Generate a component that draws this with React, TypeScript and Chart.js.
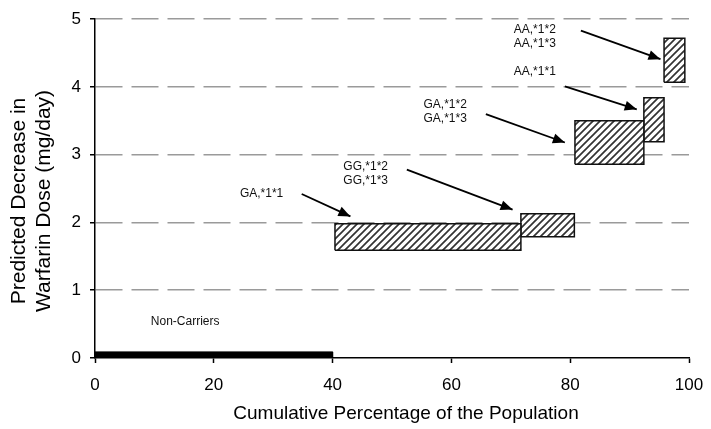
import React, { useEffect, useRef } from 'react';
import { Chart, registerables } from 'chart.js';

Chart.register(...registerables);

// ---- data ----
const xTickValues = [0, 20, 40, 60, 80, 100];
const yTickValues = [0, 1, 2, 3, 4, 5];

const boxNames = ['GA,*1*1', 'GG,*1*2 / GG,*1*3', 'GA,*1*2 / GA,*1*3', 'AA,*1*1', 'AA,*1*2 / AA,*1*3'];
const boxXStart = [40.4, 71.7, 80.8, 92.4, 95.8];
const boxXEnd = [71.7, 80.7, 92.4, 95.8, 99.3];
const boxYLow = [1.59, 1.79, 2.86, 3.19, 4.07];
const boxYHigh = [1.98, 2.13, 3.5, 3.84, 4.72];

const nonCarrierX = [0, 40];
const nonCarrierY = [0, 0.09];

const arrowTailX = [34.8, 52.5, 65.8, 79.1, 81.8];
const arrowTailY = [2.42, 2.78, 3.6, 4.01, 4.83];
const arrowHeadX = [43.0, 70.3, 79.1, 91.2, 95.2];
const arrowHeadY = [2.09, 2.19, 3.18, 3.67, 4.41];

const labelLines = [
  ['GA,*1*1'],
  ['GG,*1*2', 'GG,*1*3'],
  ['GA,*1*2', 'GA,*1*3'],
  ['AA,*1*1'],
  ['AA,*1*2', 'AA,*1*3'],
  ['Non-Carriers'],
];
const labelX = [24.4, 41.8, 55.3, 70.5, 70.5, 9.4];
const labelY = [2.42, 2.82, 3.74, 4.22, 4.84, 0.53];

const xTitle = 'Cumulative Percentage of the Population';
const yTitleLines = ['Predicted Decrease in', 'Warfarin Dose (mg/day)'];

const FONT = '"Liberation Sans", Arial, Helvetica, sans-serif';

function makeHatch(): CanvasPattern | string {
  const s = 7;
  const c = document.createElement('canvas');
  c.width = s;
  c.height = s;
  const g = c.getContext('2d');
  if (!g) return '#bbb';
  g.fillStyle = '#fff';
  g.fillRect(0, 0, s, s);
  g.strokeStyle = '#333';
  g.lineWidth = 1.7;
  g.beginPath();
  g.moveTo(-1, s + 1);
  g.lineTo(s + 1, -1);
  g.moveTo(-1, 1);
  g.lineTo(1, -1);
  g.moveTo(s - 1, s + 1);
  g.lineTo(s + 1, s - 1);
  g.stroke();
  return g.createPattern(c, 'repeat') || '#bbb';
}

const annotationPlugin = {
  id: 'annotations',
  afterDatasetsDraw(chart: any) {
    const { ctx, scales } = chart;
    const xs = scales.x;
    const ys = scales.y;
    ctx.save();
    // arrowheads
    ctx.fillStyle = '#000';
    for (let i = 0; i < arrowHeadX.length; i++) {
      const tx = xs.getPixelForValue(arrowTailX[i]);
      const ty = ys.getPixelForValue(arrowTailY[i]);
      const hx = xs.getPixelForValue(arrowHeadX[i]);
      const hy = ys.getPixelForValue(arrowHeadY[i]);
      const dx = hx - tx;
      const dy = hy - ty;
      const len = Math.hypot(dx, dy) || 1;
      const ux = dx / len;
      const uy = dy / len;
      const L = 12;
      const W = 5;
      const bx = hx - ux * L;
      const by = hy - uy * L;
      ctx.beginPath();
      ctx.moveTo(hx, hy);
      ctx.lineTo(bx - uy * W, by + ux * W);
      ctx.lineTo(bx + uy * W, by - ux * W);
      ctx.closePath();
      ctx.fill();
    }
    // labels
    ctx.fillStyle = '#111';
    ctx.font = `12px ${FONT}`;
    ctx.textAlign = 'left';
    ctx.textBaseline = 'middle';
    for (let i = 0; i < labelLines.length; i++) {
      const px = xs.getPixelForValue(labelX[i]);
      const py = ys.getPixelForValue(labelY[i]);
      labelLines[i].forEach((t, j) => ctx.fillText(t, px, py + j * 14));
    }
    ctx.restore();
  },
  afterDraw(chart: any) {
    const { ctx } = chart;
    ctx.save();
    ctx.fillStyle = '#000';
    ctx.font = `19px ${FONT}`;
    ctx.textAlign = 'center';
    ctx.textBaseline = 'alphabetic';
    ctx.fillText(xTitle, 406, 419);
    ctx.font = `21px ${FONT}`;
    ctx.translate(0, 201);
    ctx.rotate(-Math.PI / 2);
    ctx.fillText(yTitleLines[0], 0, 25);
    ctx.fillText(yTitleLines[1], 0, 50);
    ctx.restore();
  },
};

export default function App() {
  const ref = useRef<HTMLCanvasElement | null>(null);

  useEffect(() => {
    if (!ref.current) return;
    const hatch = makeHatch();

    const datasets: any[] = [];
    datasets.push({
      label: 'Non-Carriers',
      data: [
        { x: nonCarrierX[0], y: nonCarrierY[0] },
        { x: nonCarrierX[0], y: nonCarrierY[1] },
        { x: nonCarrierX[1], y: nonCarrierY[1] },
        { x: nonCarrierX[1], y: nonCarrierY[0] },
        { x: nonCarrierX[0], y: nonCarrierY[0] },
      ],
      showLine: true,
      fill: 'shape',
      backgroundColor: '#000',
      borderColor: '#000',
      borderWidth: 1,
      pointRadius: 0,
    });
    for (let i = 0; i < boxNames.length; i++) {
      datasets.push({
        label: boxNames[i],
        data: [
          { x: boxXStart[i], y: boxYLow[i] },
          { x: boxXStart[i], y: boxYHigh[i] },
          { x: boxXEnd[i], y: boxYHigh[i] },
          { x: boxXEnd[i], y: boxYLow[i] },
          { x: boxXStart[i], y: boxYLow[i] },
        ],
        showLine: true,
        fill: 'shape',
        backgroundColor: hatch,
        borderColor: '#111',
        borderWidth: 1.5,
        pointRadius: 0,
      });
    }
    for (let i = 0; i < arrowTailX.length; i++) {
      datasets.push({
        label: 'arrow ' + (i + 1),
        data: [
          { x: arrowTailX[i], y: arrowTailY[i] },
          { x: arrowHeadX[i], y: arrowHeadY[i] },
        ],
        showLine: true,
        fill: false,
        borderColor: '#000',
        borderWidth: 1.8,
        pointRadius: 0,
      });
    }

    const chart = new Chart(ref.current, {
      type: 'scatter',
      data: { datasets },
      plugins: [annotationPlugin],
      options: {
        animation: false,
        responsive: false,
        devicePixelRatio: 1,
        layout: { padding: { top: 12, right: 22, left: 0, bottom: 0 } },
        plugins: {
          legend: { display: false },
          tooltip: { enabled: false },
          title: { display: false },
        },
        elements: { line: { tension: 0 } },
        scales: {
          x: {
            type: 'linear',
            min: 0,
            max: 100,
            afterFit: (s: any) => {
              s.height = 71;
              s.paddingRight = 0;
              s.paddingLeft = 0;
            },
            afterBuildTicks: (s: any) => {
              s.ticks = xTickValues.map((v) => ({ value: v }));
            },
            ticks: {
              color: '#000',
              font: { size: 17, family: FONT },
              padding: 12,
              maxRotation: 0,
            },
            grid: {
              display: true,
              drawOnChartArea: false,
              drawTicks: true,
              tickLength: 5,
              tickColor: '#000',
              tickWidth: 1.5,
              tickBorderDash: [],
            },
            border: { display: true, color: '#000', width: 1.5 },
          },
          y: {
            type: 'linear',
            min: 0,
            max: 5,
            afterFit: (s: any) => {
              s.width = 95;
            },
            afterBuildTicks: (s: any) => {
              s.ticks = yTickValues.map((v) => ({ value: v }));
            },
            ticks: {
              color: '#000',
              font: { size: 17, family: FONT },
              padding: 9,
            },
            grid: {
              display: true,
              drawTicks: true,
              tickLength: 5,
              tickColor: '#000',
              tickWidth: 1.5,
              tickBorderDash: [],
              color: (c: any) => (c.tick && c.tick.value === 0 ? 'rgba(0,0,0,0)' : '#9a9a9a'),
              lineWidth: 1.5,
            },
            border: { display: true, color: '#000', width: 1.5, dash: [27, 9] },
          },
        },
      },
    });
    return () => chart.destroy();
  }, []);

  return (
    <div style={{ position: 'fixed', left: 0, top: 0, width: 711, height: 429, background: '#fff' }}>
      <canvas ref={ref} width={711} height={429} style={{ display: 'block' }} />
    </div>
  );
}
